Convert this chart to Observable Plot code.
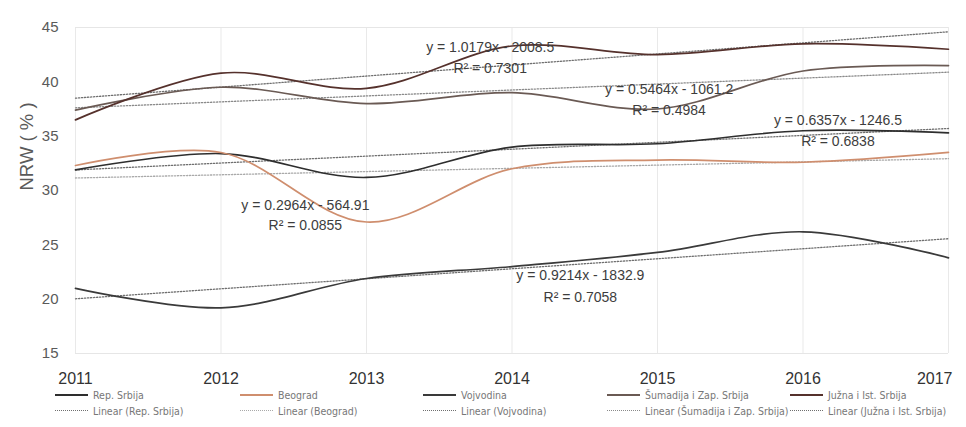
<!DOCTYPE html>
<html>
<head>
<meta charset="utf-8">
<script src="https://cdn.jsdelivr.net/npm/d3@7"></script>
<script src="https://cdn.jsdelivr.net/npm/@observablehq/plot@0.6"></script>
<style>
  body { margin: 0; background: #fff; }
  #chart { position: relative; width: 966px; height: 427px; overflow: hidden; }
  .legend { position: absolute; left: 0; top: 388px; width: 966px; height: 36px;
            font-family: "Liberation Sans Narrow", "DejaVu Sans Condensed", "Liberation Sans", sans-serif;
            font-size: 10.5px; color: #777; }
  .item { position: absolute; display: flex; align-items: center; white-space: nowrap; height: 13px; }
  .sw { width: 33px; height: 0; margin-right: 5px; }
</style>
</head>
<body>
<div id="chart"></div>
<script>
// NRW (non-revenue water) share by region, 2011–2017
const years = [2011, 2012, 2013, 2014, 2015, 2016, 2017];
const regions = ["Rep. Srbija", "Beograd", "Vojvodina", "Šumadija i Zap. Srbija", "Južna i Ist. Srbija"];

const repSrbija = [31.9, 33.4, 31.2, 34.0, 34.3, 35.5, 35.3];
const beograd   = [32.3, 33.5, 27.1, 32.0, 32.8, 32.6, 33.5];
const vojvodina = [21.0, 19.2, 21.9, 23.0, 24.3, 26.2, 23.8];
const sumadija  = [37.4, 39.5, 38.0, 39.0, 37.5, 41.0, 41.5];
const juzna     = [36.5, 40.8, 39.4, 43.3, 42.5, 43.5, 43.0];

// Linear trend fits (y = slope·x + intercept) and their R²
const trendSlope     = [0.6357, 0.2964, 0.9214, 0.5464, 1.0179];
const trendIntercept = [-1246.5, -564.91, -1832.9, -1061.2, -2008.5];
const trendR2        = ["0.6838", "0.0855", "0.7058", "0.4984", "0.7301"];

const yTicks = [15, 20, 25, 30, 35, 40, 45];

// Where each trend equation is written (data units: year, %)
const eqYear  = [2016.24, 2012.58, 2014.47, 2015.08, 2013.85];
const eqValue = [36.44, 28.62, 22.18, 39.30, 43.19];
const r2Value = [34.51, 26.78, 20.16, 37.36, 41.23];

// Styling
const lineColors  = ["#2e2e2e", "#cf8e6e", "#3a3a3a", "#6a5a54", "#55312c"];
const trendColors = ["#6f6f6f", "#a9a9a9", "#6f6f6f", "#8a8a8a", "#6f6f6f"];

const seriesValues = [repSrbija, beograd, vojvodina, sumadija, juzna];
const rows = regions.flatMap((r, i) => years.map((yr, j) => ({region: r, year: yr, value: seriesValues[i][j]})));
const trendRows = regions.flatMap((r, i) => [years[0], years[years.length - 1]].map(yr => ({
  region: r, year: yr, value: trendSlope[i] * yr + trendIntercept[i]
})));
const eqRows = regions.map((r, i) => ({
  region: r, year: eqYear[i], value: eqValue[i],
  text: `y = ${trendSlope[i]}x - ${Math.abs(trendIntercept[i])}`
}));
const r2Rows = regions.map((r, i) => ({region: r, year: eqYear[i], value: r2Value[i], text: `R² = ${trendR2[i]}`}));

const yearAxis = {tickFormat: d => String(d), tickSize: 0, tickPadding: 19, fontSize: 16, fill: "#333", label: null};

const plot = Plot.plot({
  width: 966,
  height: 390,
  marginLeft: 75,
  marginRight: 18,
  marginTop: 27,
  marginBottom: 37,
  style: {fontFamily: "Liberation Sans, Arial, sans-serif", background: "#fff"},
  x: {domain: [2011, 2017]},
  y: {domain: [15, 45]},
  color: {domain: regions, range: lineColors},
  marks: [
    Plot.ruleX(years, {stroke: "#e9e9e9", strokeWidth: 1}),
    Plot.ruleY([15, 45], {stroke: "#e6e6e6", strokeWidth: 1}),
    Plot.axisY({ticks: yTicks, tickSize: 0, tickPadding: 17, fontSize: 15, fill: "#5a5a5a", label: null}),
    Plot.axisX({...yearAxis, ticks: years.slice(0, -1)}),
    Plot.axisX({...yearAxis, ticks: years.slice(-1), textAnchor: "end", dx: 4}),
    Plot.text(["NRW ( % )"], {frameAnchor: "left", dx: -48, rotate: -90, fontSize: 18.5, fill: "#5a5a5a"}),
    Plot.line(trendRows, {x: "year", y: "value", z: "region",
      stroke: d => trendColors[regions.indexOf(d.region)], strokeWidth: 1.3, strokeDasharray: "1.3,1.7"}),
    Plot.line(rows, {x: "year", y: "value", z: "region", stroke: "region", strokeWidth: 1.7, curve: "catmull-rom"}),
    Plot.text(eqRows, {x: "year", y: "value", text: "text", fontSize: 14, fill: "#3d3d3d"}),
    Plot.text(r2Rows, {x: "year", y: "value", text: "text", fontSize: 14, fill: "#3d3d3d"})
  ]
});

const chart = document.getElementById("chart");
chart.appendChild(plot);

// Legend below the chart: series swatches on the first row, trend lines on the second
const legendLeft = [55, 240, 423, 607, 790];
const legend = document.createElement("div");
legend.className = "legend";
regions.forEach((r, i) => {
  const a = document.createElement("div");
  a.className = "item";
  a.style.left = legendLeft[i] + "px";
  a.style.top = "0px";
  a.innerHTML = `<span class="sw" style="border-top:2px solid ${lineColors[i]}"></span>${r}`;
  legend.appendChild(a);
  const b = document.createElement("div");
  b.className = "item";
  b.style.left = legendLeft[i] + "px";
  b.style.top = "16px";
  b.innerHTML = `<span class="sw" style="border-top:1.3px dotted ${trendColors[i]}"></span>Linear (${r})`;
  legend.appendChild(b);
});
chart.appendChild(legend);
</script>
</body>
</html>
